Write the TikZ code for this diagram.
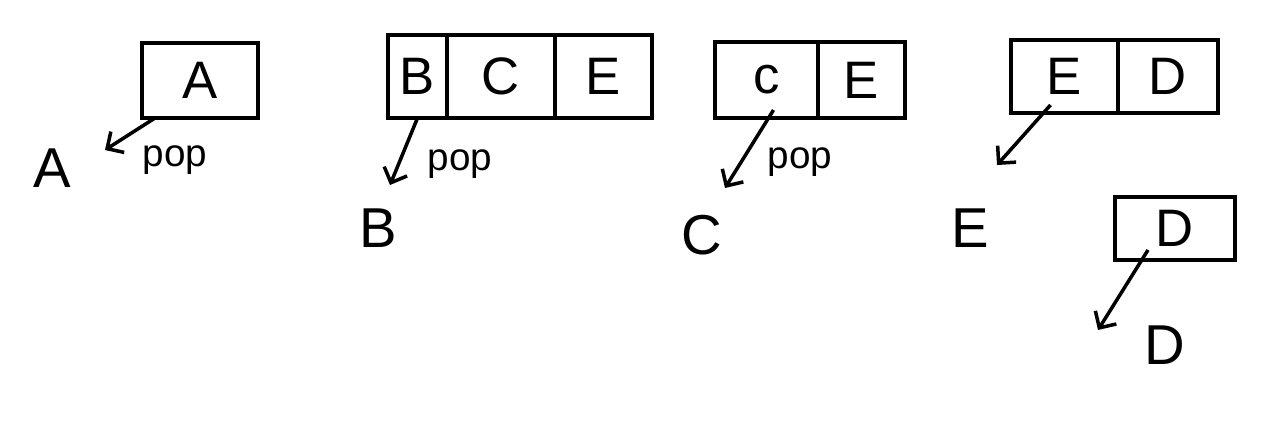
\documentclass[tikz,border=0pt]{standalone}
\usepackage{fontspec}
\setmainfont{Liberation Sans}
\usetikzlibrary{arrows.meta,positioning}
\tikzset{
  cell/.style={draw, line width=2.2pt, outer sep=0pt, inner sep=0pt, font=\fontsize{30}{30}\selectfont},
  item/.style={inner sep=0pt, font=\fontsize{32}{32}\selectfont},
  lbl/.style={inner sep=0pt, font=\fontsize{22}{22}\selectfont},
  arrow/.style={-{Straight Barb[angle=90:3.5mm]}, line width=2pt}
}

\begin{document}
\begin{tikzpicture}[node distance=0pt]
  \useasboundingbox (0,0) rectangle (25.6,-8.88);

  % queue: A
  \node[cell, minimum width=23.2mm, minimum height=15mm] (a1) at (4.0,-1.61) {A};
  \node[item] (outA) at (1.04,-3.36) {A};
  \node[lbl] (pop1) at (3.5,-3.2) {pop};
  \coordinate (endA) at (2.1,-3.0);
  \draw[arrow] ([xshift=2.6mm]a1.south west) -- (endA);

  % queue: B C E
  \node[cell, minimum width=11.8mm, minimum height=16.6mm, anchor=west] (b1) at (7.76,-1.53) {B};
  \node[cell, minimum width=21.6mm, minimum height=16.6mm, right=of b1] (b2) {C};
  \node[cell, minimum width=19.4mm, minimum height=16.6mm, right=of b2] (b3) {E};
  \node[item] (outB) at (7.56,-4.56) {B};
  \node[lbl] (pop2) at (9.2,-3.28) {pop};
  \coordinate (endB) at (7.8,-3.7);
  \draw[arrow] (b1.south) -- (endB);

  % queue: C E
  \node[cell, minimum width=20.6mm, minimum height=15.2mm, anchor=west] (c1) at (14.3,-1.6) {c};
  \node[cell, minimum width=17.4mm, minimum height=15.2mm, right=of c1] (c2) {E};
  \node[item] (outC) at (14.04,-4.7) {C};
  \node[lbl] (pop3) at (16.0,-3.24) {pop};
  \coordinate (endC) at (14.5,-3.76);
  \draw[arrow] ([xshift=1.4mm, yshift=1.6mm]c1.south) -- (endC);

  % queue: E D
  \node[cell, minimum width=21.4mm, minimum height=14.6mm, anchor=west] (d1) at (20.22,-1.53) {E};
  \node[cell, minimum width=20mm, minimum height=14.6mm, right=of d1] (d2) {D};
  \node[item] (outE) at (19.4,-4.56) {E};
  \coordinate (endE) at (19.94,-3.3);
  \draw[arrow] ([xshift=-2.8mm, yshift=1.6mm]d1.south) -- (endE);

  % queue: D
  \node[cell, minimum width=24mm, minimum height=12.6mm] (e1) at (23.5,-4.57) {D};
  \node[item] (outD) at (23.3,-6.9) {D};
  \coordinate (endD) at (21.96,-6.6);
  \draw[arrow] ([xshift=-5.4mm, yshift=2mm]e1.south) -- (endD);
\end{tikzpicture}
\end{document}
